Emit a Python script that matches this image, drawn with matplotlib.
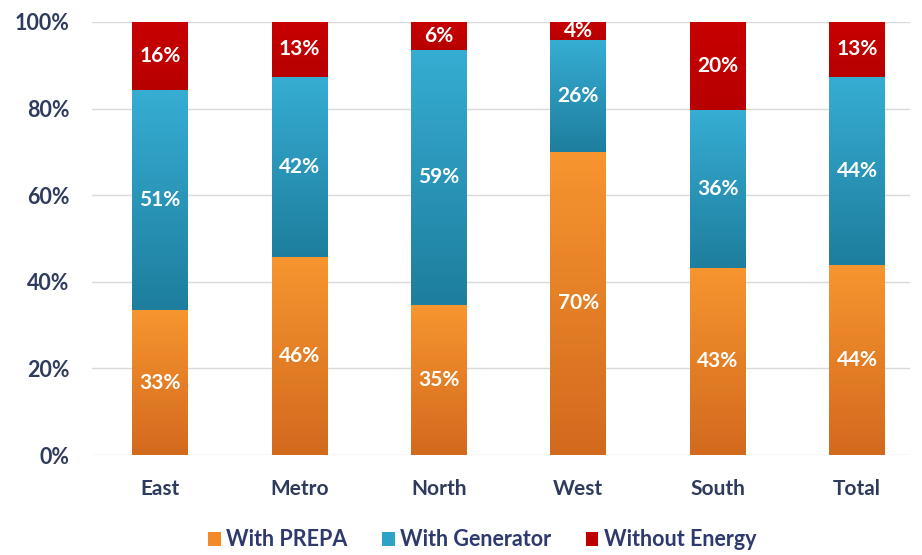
import numpy as np
import matplotlib
matplotlib.use("Agg")
import matplotlib.pyplot as plt
from matplotlib.colors import LinearSegmentedColormap

regions = ["East", "Metro", "North", "West", "South", "Total"]
with_prepa = [33.4, 45.8, 34.6, 70.0, 43.2, 43.8]
with_generator = [51.0, 41.6, 59.0, 25.8, 36.4, 43.6]
without_energy = [15.6, 12.6, 6.4, 4.2, 20.4, 12.6]
series_names = ["With PREPA", "With Generator", "Without Energy"]
yticks = [0, 20, 40, 60, 80, 100]

plt.rcParams['font.family'] = ['Lato', 'DejaVu Sans']

fig = plt.figure(figsize=(9.22, 5.55), dpi=100)
ax = fig.add_axes([92/922, 1 - 455/555, (910-92)/922, (455-22)/555])

grads = [("#F7952F", "#D26A1E"), ("#36ADD3", "#1E7E9E"), ("#C80000", "#B80000")]
legend_cols = ["#F28A2A", "#2BA2C6", "#C00000"]
width = 0.40
x = np.arange(len(regions))
bottom = np.zeros(len(regions))
data = [with_prepa, with_generator, without_energy]
grad_img = np.linspace(1, 0, 100).reshape(-1, 1)
for vals, (ctop, cbot), name, lc in zip(data, grads, series_names, legend_cols):
    vals = np.array(vals)
    bars = ax.bar(x, vals, width, bottom=bottom, color=lc, edgecolor="none", zorder=2, label=name)
    cmap = LinearSegmentedColormap.from_list("g", [cbot, ctop])
    for b, v, bt, xi in zip(bars, vals, bottom, x):
        im = ax.imshow(grad_img, cmap=cmap, extent=[xi - width/2, xi + width/2, bt, bt + v],
                       aspect="auto", zorder=2.5, vmin=0, vmax=1)
        im.set_clip_path(b)
        ax.text(xi, bt + v/2, f"{round(v):d}%", ha="center", va="center", color="white",
                fontsize=15, fontweight="bold", zorder=4)
    bottom = bottom + vals

ax.set_xlim(-0.488, 5.38)
ax.set_ylim(0, 100)
ax.set_yticks(yticks)
ax.set_yticklabels([f"{t}%" for t in yticks])
ax.set_xticks(x)
ax.set_xticklabels(regions)
ax.grid(axis="y", color="#D9D9D9", linewidth=1, zorder=0)
ax.set_axisbelow(True)
for s in ax.spines.values():
    s.set_visible(False)
ax.tick_params(length=0)
for lab in ax.get_yticklabels():
    lab.set_fontsize(15.5); lab.set_fontweight("bold"); lab.set_color("#2E3B5C")
for lab in ax.get_xticklabels():
    lab.set_fontsize(15); lab.set_fontweight("bold"); lab.set_color("#2E3B5C")
ax.tick_params(axis="y", pad=16)
ax.tick_params(axis="x", pad=17)

handles, labels = ax.get_legend_handles_labels()
leg = fig.legend(handles, labels, loc="center", bbox_to_anchor=(482/922, 1 - 540/555), ncol=3,
                 frameon=False, handlelength=0.6, handleheight=0.6, handletextpad=0.25,
                 columnspacing=1.6, prop={"size": 15.5, "weight": "bold"})
for t in leg.get_texts():
    t.set_color("#2E3A6E")

fig.savefig("out.png", dpi=100)
